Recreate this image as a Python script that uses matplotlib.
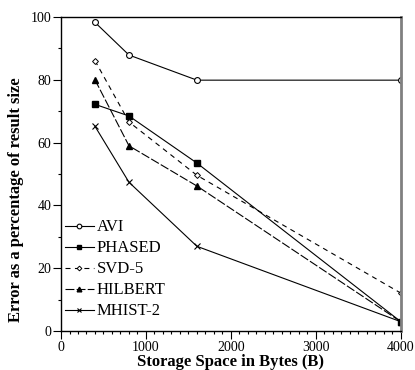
import numpy as np
import matplotlib.pyplot as plt
from matplotlib.ticker import MultipleLocator

plt.rcParams['font.family'] = ['Liberation Serif', 'DejaVu Serif']

# storage budget (bytes) and error (% of result size) per method
storage = [400, 800, 1600, 4000]
avi = [98.3, 87.9, 79.9, 79.9]
phased = [72.2, 68.5, 53.5, 3.0]
svd5 = [86.1, 66.6, 49.6, 12.1]
hilbert = [80.0, 59.0, 46.2, 3.0]
mhist2 = [65.2, 47.4, 27.0, 3.0]

fig = plt.figure(figsize=(4.15, 3.7), dpi=100)
ax = fig.add_axes([0.147, 0.105, 0.819, 0.849])

lw = 0.8
ax.plot(storage, avi, color='k', lw=lw, marker='o', ms=4.2, mfc='white', mew=0.8, label='AVI')
ax.plot(storage, phased, color='k', lw=lw, marker='s', ms=4.2, mfc='k', label='PHASED')
ax.plot(storage, svd5, color='k', lw=lw, ls=(0, (4.5, 4)), marker='D', ms=3,
        mfc='white', mew=0.7, label='SVD-5')
ax.plot(storage, hilbert, color='k', lw=lw, ls=(0, (8, 2)), marker='^', ms=4.2,
        mfc='k', label='HILBERT')
ax.plot(storage, mhist2, color='k', lw=lw, marker='x', ms=4.2, mew=0.8, label='MHIST-2')

ax.set_xlim(0, 4000)
ax.set_ylim(0, 100)
ax.xaxis.set_major_locator(MultipleLocator(1000))
ax.xaxis.set_minor_locator(MultipleLocator(100))
ax.yaxis.set_major_locator(MultipleLocator(20))
ax.yaxis.set_minor_locator(MultipleLocator(10))
ax.tick_params(which='major', direction='out', length=5.5, width=0.8, labelsize=10, pad=1.5)
ax.tick_params(which='minor', direction='out', length=2.5, width=0.8)
ax.tick_params(top=False, right=False)

for s in ['left', 'bottom', 'top']:
    ax.spines[s].set_linewidth(1.0)
ax.spines['right'].set_color('#808080')
ax.spines['right'].set_linewidth(2.0)

ax.set_xlabel('Storage Space in Bytes (B)', fontsize=12, fontweight='bold', labelpad=0)
ax.set_ylabel('Error as a percentage of result size', fontsize=12, fontweight='bold')
ax.yaxis.set_label_coords(-0.108, 0.42)

ax.legend(loc='lower left', bbox_to_anchor=(-0.022, 0.0), frameon=False, fontsize=12,
          handlelength=1.7, handletextpad=0.2, labelspacing=0.3, borderaxespad=0.3,
          markerscale=0.8)

fig.savefig('out.png', dpi=100)
